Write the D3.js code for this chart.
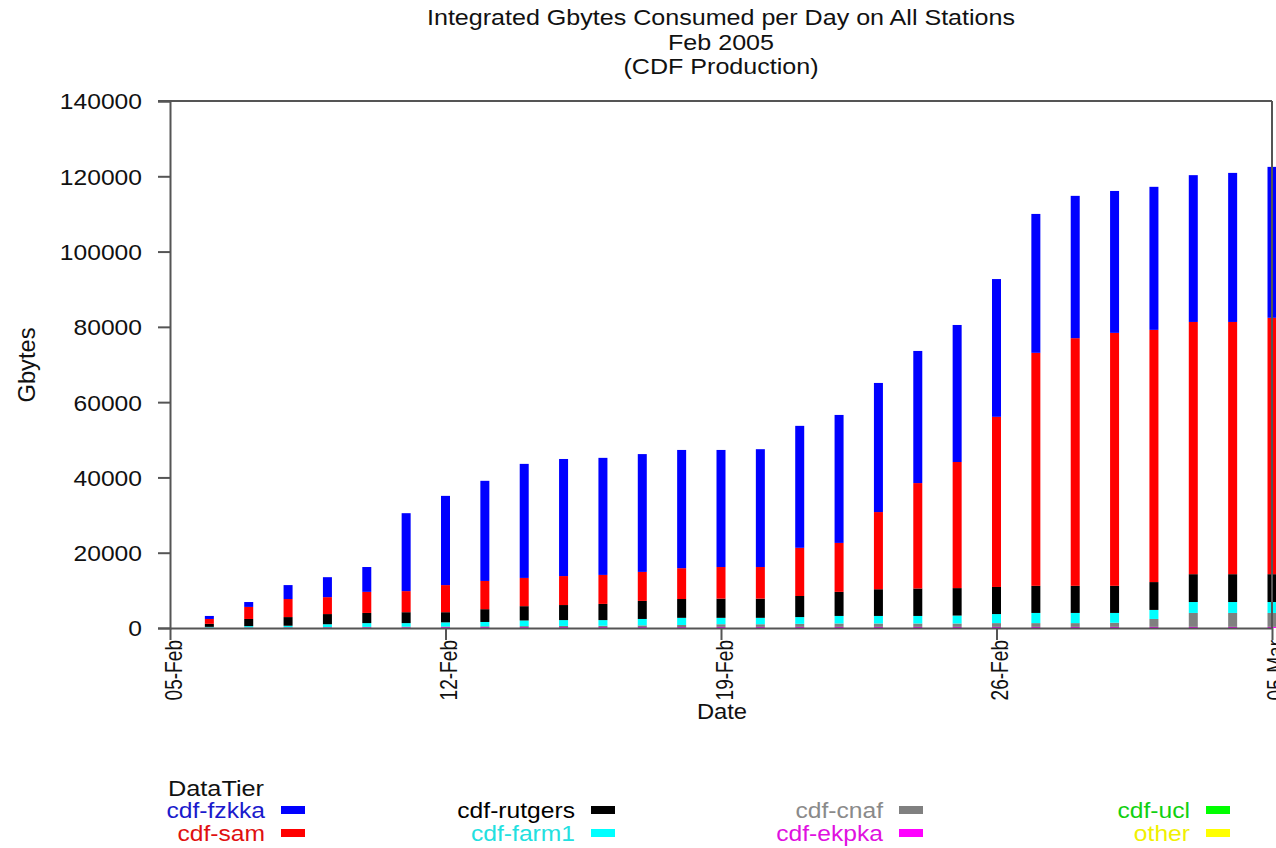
<!DOCTYPE html>
<html>
<head>
<meta charset="utf-8">
<script src="https://cdn.jsdelivr.net/npm/d3@7/dist/d3.min.js"></script>
<style>
  body { margin: 0; background: #fff; }
  text { font-family: "Liberation Sans", Arial, Helvetica, sans-serif; }
</style>
</head>
<body>
<svg id="chart" width="1276" height="848"></svg>
<script>
// days of the chart (one bar per day, cumulative Gbytes)
const days = ['2005-02-06', '2005-02-07', '2005-02-08', '2005-02-09', '2005-02-10', '2005-02-11', '2005-02-12',
    '2005-02-13', '2005-02-14', '2005-02-15', '2005-02-16', '2005-02-17', '2005-02-18', '2005-02-19',
    '2005-02-20', '2005-02-21', '2005-02-22', '2005-02-23', '2005-02-24', '2005-02-25', '2005-02-26',
    '2005-02-27', '2005-02-28', '2005-03-01', '2005-03-02', '2005-03-03', '2005-03-04', '2005-03-05'];

const fzkka = [800, 1300, 3700, 5300, 6600, 20700, 23700, 26600, 30300, 31100, 31100, 31300, 31400, 31100,
    31300, 32400, 34000, 34300, 35100, 36400, 36600, 36900, 37800, 37700, 38000, 39000, 39600, 40100];
const sam = [1300, 3200, 4800, 4500, 5600, 5600, 7200, 7500, 7500, 7700, 7700, 7700, 8200, 8400,
    8400, 12800, 13000, 20500, 28000, 33500, 45200, 61900, 65800, 67200, 67000, 67000, 67000, 68100];
const rutgers = [800, 1900, 2300, 2700, 2700, 2900, 2700, 3400, 3800, 4000, 4300, 4800, 5000, 5100,
    5100, 5600, 6400, 7100, 7300, 7300, 7200, 7200, 7200, 7200, 7400, 7400, 7400, 7400];
const farm1 = [200, 350, 400, 750, 1000, 950, 1100, 1150, 1500, 1550, 1500, 1700, 1900, 1700,
    1700, 1800, 2000, 2000, 2000, 2100, 2400, 2700, 2700, 2600, 2400, 2900, 2900, 2900];
const cnaf = [50, 70, 100, 100, 100, 150, 150, 200, 250, 300, 350, 450, 550, 700,
    700, 800, 900, 900, 900, 900, 1000, 1000, 1000, 1100, 2100, 3700, 3700, 3700];
const ekpka = [50, 80, 100, 150, 200, 200, 250, 250, 250, 250, 250, 250, 250, 300,
    300, 300, 300, 300, 300, 300, 300, 300, 300, 300, 300, 300, 300, 300];
const ucl = days.map(() => 0);
const other = days.map(() => 0);

const seriesNames = ['cdf-fzkka', 'cdf-sam', 'cdf-rutgers', 'cdf-farm1', 'cdf-cnaf', 'cdf-ekpka', 'cdf-ucl', 'other'];
const seriesValues = [fzkka, sam, rutgers, farm1, cnaf, ekpka, ucl, other];
const barColors = ['#0000ff', '#ff0000', '#000000', '#00ffff', '#808080', '#ff00ff', '#00ff00', '#ffff00'];
const textColors = ['#1a1acc', '#e01010', '#000000', '#22e0e0', '#8a8a8a', '#e010e0', '#10d010', '#f0f000'];

const yTicks = [0, 20000, 40000, 60000, 80000, 100000, 120000, 140000];
const xTicks = ['2005-02-05', '2005-02-12', '2005-02-19', '2005-02-26', '2005-03-05'];
const titleLines = ['Integrated Gbytes Consumed per Day on All Stations', 'Feb 2005', '(CDF Production)'];

const parse = d3.utcParse('%Y-%m-%d');
const fmt = d3.utcFormat('%d-%b');

const rows = days.map((d, i) => {
    const r = { date: parse(d) };
    seriesNames.forEach((s, j) => r[s] = seriesValues[j][i]);
    return r;
});

// stack bottom-up: other, ucl, ekpka, cnaf, farm1, rutgers, sam, fzkka
const stack = d3.stack().keys(seriesNames.slice().reverse());
const stacked = stack(rows);

const plotLeft = 170, plotRight = 1272, plotTop = 101, plotBottom = 628;

const x = d3.scaleUtc()
    .domain([parse('2005-02-05'), parse('2005-03-05')])
    .range([plotLeft, plotRight]);
const y = d3.scaleLinear()
    .domain([0, 140000])
    .range([plotBottom, plotTop]);

const svg = d3.select('#chart');
const axisColor = '#555';
const barW = 9;
const fontSize = 22;
const wide = 1.12; // the original font runs wider than Liberation Sans

// bars
svg.append('g')
    .selectAll('g')
    .data(stacked)
    .join('g')
    .attr('fill', d => barColors[seriesNames.indexOf(d.key)])
    .selectAll('rect')
    .data(d => d)
    .join('rect')
    .attr('x', d => x(d.data.date) - barW / 2)
    .attr('width', barW)
    .attr('y', d => y(d[1]))
    .attr('height', d => y(d[0]) - y(d[1]));

// frame: top and right
svg.append('line')
    .attr('x1', plotLeft - 12).attr('x2', plotRight)
    .attr('y1', plotTop).attr('y2', plotTop)
    .attr('stroke', axisColor).attr('stroke-width', 2);
svg.append('line')
    .attr('x1', plotRight).attr('x2', plotRight)
    .attr('y1', plotTop).attr('y2', plotBottom)
    .attr('stroke', axisColor).attr('stroke-width', 2);

// y axis
const yAxis = svg.append('g')
    .attr('transform', `translate(${plotLeft},0)`)
    .call(d3.axisLeft(y).tickValues(yTicks).tickFormat(d3.format('d')).tickSize(12));
yAxis.select('.domain').attr('stroke', axisColor).attr('stroke-width', 2);
yAxis.selectAll('.tick line').attr('stroke', axisColor).attr('stroke-width', 2);
yAxis.selectAll('.tick text')
    .attr('font-size', fontSize)
    .attr('fill', '#111')
    .attr('font-family', '"Liberation Sans", Arial, sans-serif')
    .attr('x', null)
    .attr('dy', '0.36em')
    .attr('transform', `translate(-28,0) scale(${wide},1)`);

// x axis
const xAxis = svg.append('g')
    .attr('transform', `translate(0,${plotBottom})`)
    .call(d3.axisBottom(x).tickValues(xTicks.map(parse)).tickFormat(fmt).tickSize(12).tickSizeOuter(0));
xAxis.select('.domain').attr('stroke', axisColor).attr('stroke-width', 2);
xAxis.selectAll('.tick line').attr('stroke', axisColor).attr('stroke-width', 2);
xAxis.selectAll('.tick text')
    .attr('font-size', 23)
    .attr('fill', '#111')
    .attr('font-family', '"Liberation Sans", Arial, sans-serif')
    .attr('text-anchor', 'end')
    .attr('x', null)
    .attr('y', null)
    .attr('dy', '0.35em')
    .attr('transform', 'translate(3,12) rotate(-90) scale(0.83,1)');

// titles
svg.append('g')
    .selectAll('text')
    .data(titleLines)
    .join('text')
    .attr('transform', (d, i) => `translate(721,${25 + i * 24.5}) scale(1.14,1)`)
    .attr('text-anchor', 'middle')
    .attr('font-size', fontSize)
    .attr('fill', '#111')
    .text(d => d);

svg.append('text')
    .attr('transform', `translate(722,719) scale(1.08,1)`)
    .attr('text-anchor', 'middle')
    .attr('font-size', fontSize)
    .attr('fill', '#111')
    .text('Date');

svg.append('text')
    .attr('transform', 'translate(35,365) rotate(-90) scale(1.03,1)')
    .attr('text-anchor', 'middle')
    .attr('font-size', 23)
    .attr('fill', '#111')
    .text('Gbytes');

// legend
svg.append('text')
    .attr('transform', 'translate(168,796) scale(1.15,1)')
    .attr('font-size', fontSize)
    .attr('fill', '#111')
    .text('DataTier');

const colEnds = [265, 575, 883, 1190];
const legend = svg.append('g')
    .selectAll('g')
    .data(seriesNames)
    .join('g')
    .attr('transform', (d, i) => `translate(${colEnds[Math.floor(i / 2)]},${818 + (i % 2) * 23})`);
legend.append('text')
    .attr('text-anchor', 'end')
    .attr('transform', `scale(${wide},1)`)
    .attr('font-size', fontSize)
    .attr('fill', (d, i) => textColors[i])
    .text(d => d);
legend.append('rect')
    .attr('x', 16).attr('y', -12)
    .attr('width', 24).attr('height', 8)
    .attr('fill', (d, i) => barColors[i]);
</script>
</body>
</html>
